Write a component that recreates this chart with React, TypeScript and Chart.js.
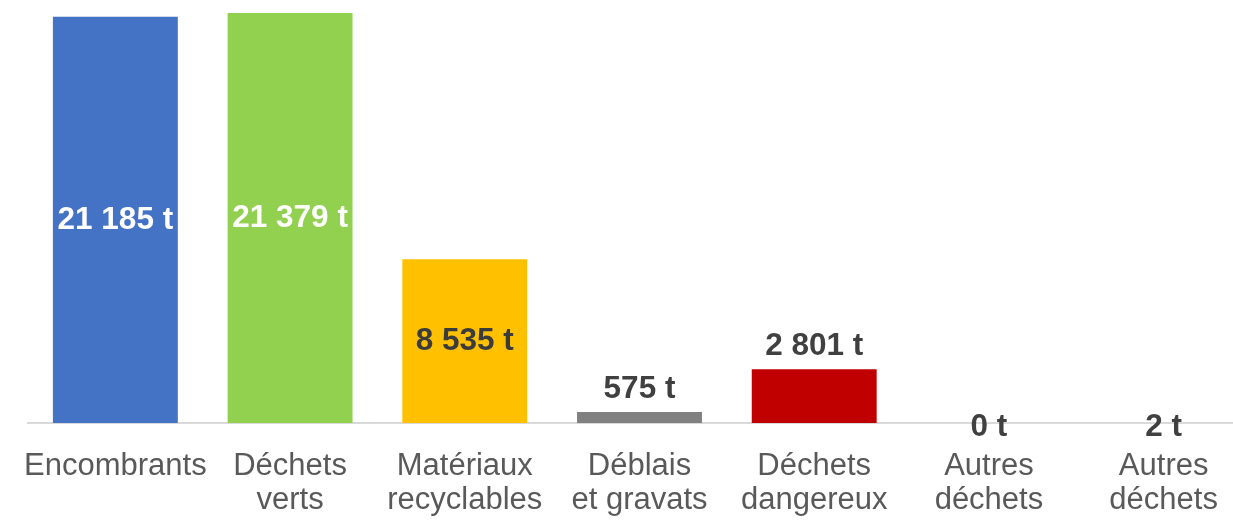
import React, { useEffect, useRef } from "react";
import { Chart, registerables } from "chart.js";

Chart.register(...registerables);

const categories: string[][] = [
  ["Encombrants"],
  ["Déchets", "verts"],
  ["Matériaux", "recyclables"],
  ["Déblais", "et gravats"],
  ["Déchets", "dangereux"],
  ["Autres", "déchets"],
  ["Autres", "déchets"],
];
const tonnages: number[] = [21185, 21379, 8535, 575, 2801, 0, 2];
const barColors: string[] = ["#4472C4", "#92D050", "#FFC000", "#808080", "#C00000", "#A5A5A5", "#5B9BD5"];
const labelColors: string[] = ["#FFFFFF", "#FFFFFF", "#3B3B3B", "#404040", "#404040", "#404040", "#404040"];

const formatT = (v: number) => v.toString().replace(/\B(?=(\d{3})+(?!\d))/g, " ") + " t";

const labelPlugin = {
  id: "valueLabels",
  afterDatasetsDraw(chart: any) {
    const ctx = chart.ctx;
    const meta = chart.getDatasetMeta(0);
    const yScale = chart.scales.y;
    ctx.save();
    ctx.font = "bold 31.5px 'Liberation Sans', Arial, sans-serif";
    ctx.textAlign = "center";
    ctx.textBaseline = "middle";
    meta.data.forEach((bar: any, i: number) => {
      const v = tonnages[i];
      const base = yScale.getPixelForValue(0);
      const h = base - bar.y;
      let y: number;
      if (h > 100) y = (bar.y + base) / 2;
      else if (h > 3) y = bar.y - 23;
      else y = base + 4;
      ctx.fillStyle = labelColors[i];
      ctx.fillText(formatT(v), bar.x, y);
    });
    ctx.restore();
  },
};

export default function App() {
  const ref = useRef<HTMLCanvasElement | null>(null);
  useEffect(() => {
    document.body.style.margin = "0";
    document.body.style.overflow = "hidden";
    if (!ref.current) return;
    const chart = new Chart(ref.current, {
      type: "bar",
      data: {
        labels: categories,
        datasets: [
          {
            data: tonnages,
            backgroundColor: barColors,
            barPercentage: 0.715,
            categoryPercentage: 1,
          },
        ],
      },
      options: {
        animation: false,
        responsive: true,
        maintainAspectRatio: false,
        layout: { padding: { left: 28, right: 29, top: 1, bottom: 4 } },
        plugins: { legend: { display: false }, tooltip: { enabled: false } },
        scales: {
          x: {
            grid: {
              display: true,
              drawOnChartArea: false,
              drawTicks: true,
              tickLength: 26,
              color: "rgba(0,0,0,0)",
              tickColor: "rgba(0,0,0,0)",
            },
            border: { display: true, color: "#D9D9D9", width: 2 },
            ticks: {
              color: "#595959",
              font: { family: "'Liberation Sans', Arial, sans-serif", size: 31, lineHeight: "34px" },
              padding: 0,
              maxRotation: 0,
              autoSkip: false,
            },
          },
          y: { display: false, min: 0, max: 22000 },
        },
      },
      plugins: [labelPlugin],
    });
    return () => chart.destroy();
  }, []);
  return (
    <div style={{ width: "1280px", height: "521px", position: "relative" }}>
      <canvas ref={ref} />
    </div>
  );
}
